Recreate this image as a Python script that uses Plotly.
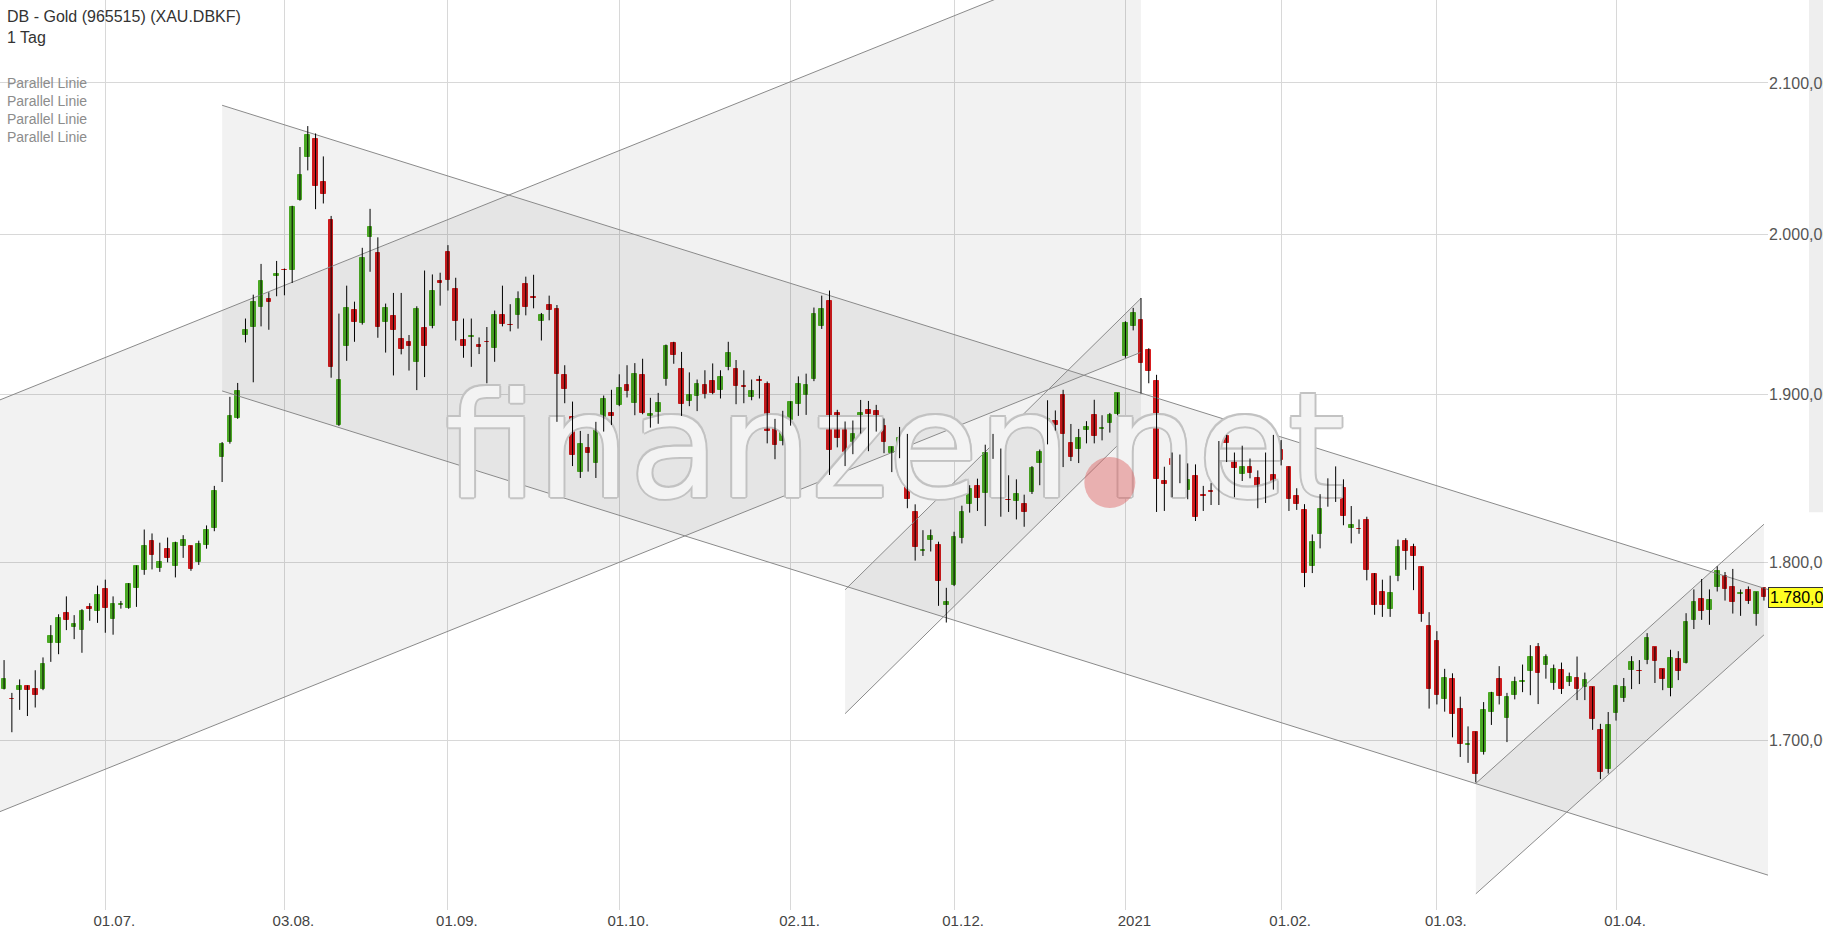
import math
import pandas as pd
import plotly.graph_objects as go

# ---------------- data ----------------
open_ = [1728.4, 1722.8, 1727.5, 1729.6, 1727.9, 1727.9, 1754.0, 1754.0, 1770.8, 1763.1,
         1761.4, 1774.4, 1772.1, 1784.4, 1767.6, 1775.5, 1773.8, 1785.1, 1795.3, 1812.6,
         1797.0, 1807.9, 1798.1, 1809.3, 1809.3, 1800.4, 1809.9, 1819.7, 1861.9, 1870.8,
         1885.6, 1936.3, 1941.3, 1953.9, 1959.3, 1973.4, 1977.4, 1977.6, 2022.7, 2050.6,
         2062.3, 2034.1, 2009.5, 1881.3, 1930.0, 1952.4, 1943.8, 1998.5, 1988.0, 1944.4,
         1948.6, 1934.2, 1932.3, 1919.9, 1941.1, 1942.3, 1970.6, 1988.9, 1965.6, 1933.5,
         1935.4, 1930.4, 1932.1, 1928.7, 1948.8, 1943.0, 1948.8, 1968.8, 1960.6, 1945.1,
         1955.6, 1953.0, 1911.5, 1886.0, 1853.3, 1867.7, 1858.6, 1879.1, 1888.4, 1893.3,
         1905.9, 1894.9, 1911.5, 1886.6, 1889.0, 1909.2, 1931.4, 1915.3, 1895.7, 1899.2,
         1905.7, 1908.2, 1902.3, 1916.6, 1915.3, 1905.2, 1898.0, 1909.0, 1906.5, 1883.6,
         1871.4, 1884.4, 1893.9, 1899.8, 1909.6, 1941.9, 1958.1, 1888.8, 1883.4, 1870.8,
         1880.3, 1890.5, 1889.5, 1880.7, 1864.7, 1868.4, 1875.0, 1829.2, 1806.3, 1813.2,
         1809.9, 1775.5, 1787.2, 1814.0, 1834.1, 1844.6, 1840.8, 1868.0, 1861.1, 1836.5,
         1835.9, 1834.3, 1841.2, 1858.6, 1870.2, 1883.8, 1899.6, 1870.6, 1866.9, 1878.1,
         1887.2, 1879.1, 1882.6, 1887.8, 1923.5, 1941.9, 1946.1, 1927.3, 1907.8, 1847.5,
         1861.1, 1860.0, 1842.4, 1850.5, 1839.3, 1841.6, 1854.2, 1874.8, 1862.3, 1852.1,
         1855.8, 1849.3, 1838.3, 1851.1, 1866.5, 1856.2, 1839.1, 1830.6, 1798.1, 1816.4,
         1841.0, 1844.0, 1843.8, 1820.1, 1819.5, 1824.5, 1793.4, 1783.2, 1773.3, 1791.9,
         1812.6, 1809.1, 1797.4, 1763.5, 1755.0, 1722.4, 1733.5, 1717.1, 1697.2, 1704.7,
         1693.5, 1715.6, 1733.5, 1712.2, 1724.7, 1732.0, 1738.2, 1751.4, 1741.8, 1731.6,
         1739.0, 1732.2, 1734.5, 1729.4, 1729.2, 1705.3, 1684.1, 1715.0, 1723.4, 1738.6,
         1738.4, 1744.3, 1751.4, 1739.2, 1728.6, 1744.8, 1742.6, 1767.0, 1778.7, 1772.5,
         1785.5, 1791.9, 1785.5, 1781.7, 1783.8, 1770.2, 1785.3]
high = [1744.3, 1726.0, 1733.5, 1730.1, 1738.6, 1745.8, 1764.0, 1770.2, 1780.4, 1769.7,
        1773.1, 1776.5, 1786.6, 1790.0, 1780.4, 1777.8, 1788.0, 1798.2, 1819.1, 1816.8,
        1811.4, 1814.4, 1812.0, 1815.8, 1809.7, 1812.6, 1821.5, 1844.8, 1871.0, 1898.4,
        1906.9, 1946.8, 1961.8, 1981.3, 1963.3, 1983.2, 1978.4, 2018.7, 2057.2, 2071.1,
        2066.2, 2051.0, 2012.1, 1949.9, 1967.5, 1957.4, 1991.6, 2016.7, 1998.3, 1956.2,
        1962.9, 1962.9, 1936.5, 1954.5, 1977.1, 1974.6, 1975.7, 1993.3, 1972.5, 1946.8,
        1946.8, 1935.0, 1941.5, 1951.8, 1967.5, 1955.8, 1963.9, 1973.2, 1974.4, 1950.3,
        1961.2, 1955.3, 1917.8, 1895.5, 1877.7, 1875.9, 1883.2, 1899.2, 1902.7, 1912.2,
        1917.8, 1919.1, 1921.8, 1897.8, 1900.8, 1930.6, 1932.3, 1926.0, 1913.4, 1909.0,
        1914.7, 1918.9, 1914.7, 1932.3, 1921.0, 1914.7, 1909.0, 1911.3, 1907.8, 1885.0,
        1889.9, 1895.7, 1910.9, 1912.6, 1953.7, 1961.2, 1964.4, 1890.5, 1883.4, 1884.0,
        1896.5, 1895.9, 1893.5, 1885.2, 1868.4, 1880.1, 1875.9, 1833.9, 1818.7, 1819.1,
        1812.0, 1785.3, 1817.8, 1833.1, 1845.2, 1849.1, 1869.4, 1875.9, 1867.1, 1851.1,
        1848.7, 1839.6, 1856.6, 1866.5, 1896.3, 1890.1, 1902.7, 1881.9, 1878.9, 1883.6,
        1896.6, 1887.2, 1888.6, 1900.8, 1945.1, 1953.5, 1959.7, 1928.3, 1911.9, 1856.2,
        1864.7, 1863.5, 1858.2, 1857.6, 1844.8, 1846.4, 1871.6, 1875.3, 1864.7, 1868.8,
        1861.1, 1854.0, 1864.7, 1875.3, 1872.2, 1856.4, 1843.4, 1834.0, 1816.2, 1839.9,
        1849.3, 1856.4, 1848.7, 1832.9, 1825.0, 1826.6, 1793.8, 1790.0, 1792.3, 1813.2,
        1814.0, 1810.8, 1797.6, 1771.4, 1760.6, 1739.4, 1736.9, 1723.9, 1707.5, 1704.7,
        1720.9, 1726.6, 1740.9, 1726.0, 1735.0, 1741.8, 1752.7, 1753.9, 1747.5, 1741.8,
        1742.9, 1737.3, 1746.3, 1737.3, 1729.4, 1708.9, 1715.4, 1730.5, 1734.3, 1746.5,
        1744.3, 1759.5, 1751.6, 1739.4, 1750.1, 1749.3, 1770.8, 1784.4, 1790.4, 1784.4,
        1797.7, 1794.4, 1796.2, 1784.4, 1786.1, 1783.0, 1785.5]
low = [1727.9, 1704.3, 1716.6, 1713.2, 1717.9, 1727.5, 1743.3, 1747.6, 1761.2, 1756.1,
       1748.4, 1766.5, 1765.3, 1759.7, 1758.6, 1773.4, 1773.3, 1774.4, 1792.8, 1795.9,
       1794.5, 1800.0, 1791.3, 1802.6, 1795.1, 1798.5, 1807.9, 1818.1, 1847.1, 1870.0,
       1885.0, 1931.9, 1907.3, 1941.9, 1939.8, 1960.8, 1961.4, 1969.2, 2022.0, 2041.8,
       2016.5, 2020.2, 1910.1, 1880.7, 1920.5, 1932.3, 1943.0, 1976.3, 1934.8, 1925.6,
       1911.5, 1924.5, 1914.5, 1902.5, 1910.5, 1940.7, 1954.9, 1964.4, 1933.1, 1922.4,
       1916.8, 1924.7, 1906.7, 1919.9, 1941.9, 1938.8, 1940.5, 1948.8, 1953.2, 1933.1,
       1945.7, 1883.2, 1894.5, 1856.6, 1849.5, 1853.3, 1849.5, 1877.3, 1881.3, 1892.7,
       1898.0, 1887.2, 1887.8, 1879.7, 1882.0, 1905.2, 1918.7, 1886.8, 1892.7, 1889.7,
       1897.4, 1900.0, 1897.4, 1914.7, 1893.9, 1894.5, 1896.3, 1897.4, 1870.2, 1860.7,
       1869.0, 1880.9, 1886.8, 1887.4, 1908.0, 1940.3, 1851.3, 1867.8, 1856.6, 1863.7,
       1876.1, 1865.5, 1877.3, 1864.3, 1853.0, 1861.3, 1831.6, 1801.0, 1803.7, 1806.3,
       1775.0, 1765.5, 1786.3, 1811.0, 1829.0, 1830.0, 1821.1, 1860.9, 1826.6, 1829.4,
       1825.0, 1820.7, 1840.0, 1845.2, 1869.6, 1877.9, 1856.0, 1859.6, 1858.4, 1870.2,
       1870.2, 1872.0, 1876.7, 1887.2, 1922.4, 1939.4, 1900.4, 1906.7, 1829.4, 1830.0,
       1838.1, 1846.4, 1836.9, 1824.1, 1830.0, 1833.5, 1833.5, 1859.0, 1838.1, 1847.7,
       1849.3, 1831.6, 1834.7, 1842.6, 1857.0, 1830.0, 1830.6, 1785.7, 1793.8, 1808.1,
       1832.5, 1835.3, 1821.6, 1811.0, 1816.6, 1789.6, 1769.9, 1768.7, 1768.7, 1789.1,
       1795.7, 1784.0, 1765.9, 1717.3, 1719.6, 1715.6, 1701.5, 1690.8, 1687.6, 1677.0,
       1692.1, 1708.3, 1719.6, 1698.9, 1722.4, 1726.4, 1724.7, 1719.8, 1733.9, 1727.7,
       1725.4, 1729.8, 1722.0, 1722.0, 1705.6, 1678.8, 1681.8, 1710.7, 1721.0, 1728.1,
       1730.9, 1742.0, 1731.5, 1727.5, 1724.1, 1733.1, 1742.4, 1761.8, 1767.0, 1764.2,
       1783.2, 1778.0, 1770.6, 1769.3, 1776.1, 1763.7, 1778.0]
close = [1733.5, 1722.4, 1730.1, 1727.5, 1724.7, 1742.0, 1757.8, 1768.0, 1767.0, 1764.6,
         1771.9, 1773.3, 1781.0, 1773.8, 1776.3, 1775.9, 1787.7, 1797.9, 1809.7, 1804.5,
         1800.2, 1802.6, 1811.4, 1813.2, 1795.9, 1810.8, 1819.1, 1841.6, 1870.0, 1886.6,
         1902.1, 1939.8, 1957.0, 1970.6, 1957.0, 1975.1, 1977.2, 2018.0, 2038.5, 2064.9,
         2031.9, 2026.2, 1916.8, 1908.4, 1953.7, 1944.4, 1984.9, 2004.8, 1941.3, 1953.7,
         1939.4, 1928.1, 1930.0, 1953.0, 1929.4, 1964.4, 1969.0, 1971.3, 1945.1, 1929.8,
         1935.8, 1929.1, 1931.9, 1949.3, 1943.6, 1942.6, 1959.3, 1953.9, 1959.5, 1949.3,
         1952.2, 1912.6, 1902.9, 1863.1, 1869.8, 1864.3, 1881.9, 1897.0, 1886.8, 1904.0,
         1902.1, 1912.2, 1888.4, 1888.0, 1894.9, 1929.8, 1924.3, 1893.9, 1899.6, 1906.5,
         1900.0, 1901.0, 1910.3, 1925.4, 1905.2, 1904.2, 1902.1, 1908.0, 1877.9, 1869.0,
         1879.7, 1895.5, 1906.5, 1905.7, 1949.9, 1953.0, 1866.5, 1873.2, 1864.9, 1876.1,
         1888.8, 1888.0, 1881.5, 1870.8, 1867.9, 1873.6, 1836.9, 1808.7, 1807.3, 1815.2,
         1789.1, 1777.4, 1815.0, 1829.2, 1842.8, 1837.7, 1864.7, 1871.0, 1839.4, 1836.3,
         1840.2, 1829.6, 1855.2, 1864.9, 1884.8, 1881.5, 1876.1, 1862.1, 1873.6, 1880.1,
         1874.4, 1879.5, 1887.6, 1900.6, 1944.0, 1950.5, 1919.3, 1914.3, 1848.7, 1846.0,
         1857.0, 1846.9, 1848.1, 1826.3, 1839.1, 1841.4, 1870.6, 1870.2, 1855.4, 1856.2,
         1852.5, 1842.4, 1843.4, 1843.4, 1860.2, 1837.1, 1834.1, 1794.0, 1811.8, 1831.4,
         1837.1, 1843.8, 1827.1, 1821.8, 1819.3, 1795.3, 1775.5, 1775.5, 1782.1, 1809.1,
         1806.3, 1803.9, 1770.6, 1728.1, 1724.7, 1734.1, 1714.5, 1697.7, 1698.1, 1681.3,
         1716.6, 1726.2, 1724.1, 1723.9, 1732.2, 1732.4, 1745.8, 1737.3, 1745.8, 1739.5,
         1728.2, 1735.0, 1728.2, 1733.3, 1711.7, 1682.9, 1708.1, 1729.8, 1729.0, 1743.1,
         1738.2, 1756.7, 1743.7, 1733.5, 1745.4, 1738.2, 1765.7, 1777.0, 1771.9, 1778.2,
         1795.1, 1784.4, 1777.2, 1782.1, 1777.8, 1782.9, 1780.0]

holidays = ["2020-12-25", "2021-01-01", "2021-04-02", "2021-04-05"]
dates = [d.strftime("%Y-%m-%d") for d in pd.bdate_range("2020-06-12", "2021-04-30")
         if d.strftime("%Y-%m-%d") not in holidays]
idx = list(range(len(dates)))

tick_dates = ["2020-07-01", "2020-08-03", "2020-09-01", "2020-10-01", "2020-11-02",
              "2020-12-01", "2021-01-04", "2021-02-01", "2021-03-01", "2021-04-01"]
tick_text = ["01.07.", "03.08.", "01.09.", "01.10.", "02.11.",
             "01.12.", "2021", "01.02.", "01.03.", "01.04."]
tick_vals = [dates.index(d) for d in tick_dates]

price_ticks = [1700, 1800, 1900, 2000, 2100]
price_text = ["1.700,00", "1.800,00", "1.900,00", "2.000,00", "2.100,00"]

# "Parallel Linie" drawings: anchor points (bar index, price)
ch1_x, ch1_upper, ch1_lower = [-6, 146], [1886.1, 2198.4], [1652.2, 1925.8]
ch2_x, ch2_upper, ch2_lower = [28, 230], [2085.0, 1779.5], [1902.0, 1623.3]
ch3_x, ch3_upper, ch3_lower = [108, 146], [1784.2, 1959.5], [1714.5, 1882.9]
ch4_x, ch4_upper, ch4_lower = [189, 226], [1676.5, 1822.2], [1618.0, 1758.5]
channels = [(ch1_x, ch1_upper, ch1_lower), (ch2_x, ch2_upper, ch2_lower),
            (ch3_x, ch3_upper, ch3_lower), (ch4_x, ch4_upper, ch4_lower)]

GREEN = "#4fb226"
RED = "#d81d1f"
FONT = "Liberation Sans, Arial, sans-serif"

fig = go.Figure()

# channel shading and lines
for cx, cu, cl in channels:
    fig.add_trace(go.Scatter(x=[cx[0], cx[1], cx[1], cx[0]], y=[cu[0], cu[1], cl[1], cl[0]],
                             mode="lines", fill="toself", fillcolor="rgba(0,0,0,0.052)",
                             line=dict(width=0), hoverinfo="skip"))
for cx, cu, cl in channels:
    for edge in (cu, cl):
        fig.add_trace(go.Scatter(x=cx, y=edge, mode="lines",
                                 line=dict(color="#8a8a8a", width=1), hoverinfo="skip"))

# watermark (drawn below the candles)
wm_shadow = ", ".join(f"{dx}px {dy}px 0 #c2c2c2" for dx, dy in
                      [(2, 0), (-2, 0), (0, 2), (0, -2), (1.5, 1.5), (-1.5, -1.5), (1.5, -1.5), (-1.5, 1.5)])
fig.add_trace(go.Scatter(x=[96.8, 156.8], y=[1860.2, 1860.2], mode="text", text=["finanzen", "net"],
                         textposition="middle center",
                         textfont=dict(family="DejaVu Sans", size=146, color="rgba(248,248,248,0.9)",
                                       shadow=wm_shadow),
                         hoverinfo="skip"))
fig.add_trace(go.Scatter(x=[142.0], y=[1846.8], mode="markers",
                         marker=dict(size=51, color="rgba(222,95,95,0.45)", line=dict(width=0)),
                         hoverinfo="skip"))

# wicks
wx, wy = [], []
for i in idx:
    wx += [i, i, None]
    wy += [low[i], high[i], None]
fig.add_trace(go.Scatter(x=wx, y=wy, mode="lines", line=dict(color="#000000", width=1), hoverinfo="skip"))

# bodies
inc = [i for i in idx if close[i] >= open_[i]]
dec = [i for i in idx if close[i] < open_[i]]
for sel, col in ((inc, GREEN), (dec, RED)):
    fig.add_trace(go.Bar(x=sel, y=[abs(close[i] - open_[i]) for i in sel],
                         base=[min(open_[i], close[i]) for i in sel],
                         width=0.6, marker=dict(color=col, line=dict(color=col, width=1)),
                         customdata=[dates[i] for i in sel], hovertemplate="%{customdata}<extra></extra>"))

# texts
fig.add_annotation(x=0, y=1, xref="paper", yref="paper", xanchor="left", yanchor="top",
                   xshift=5, yshift=-6, showarrow=False, align="left",
                   text="DB - Gold (965515) (XAU.DBKF)<br>1 Tag",
                   font=dict(family=FONT, size=16, color="#333333"))
for k in range(4):
    fig.add_annotation(x=0, y=1, xref="paper", yref="paper", xanchor="left", yanchor="middle",
                       xshift=5, yshift=-(82.7 + 18 * k), showarrow=False,
                       text="Parallel Linie", font=dict(family=FONT, size=14, color="#8c8c8c"))

fig.add_annotation(x=1, y=math.log10(close[-1]), xref="paper", yref="y", xanchor="left", yanchor="middle",
                   xshift=0, showarrow=False, text="1.780,00", bgcolor="#ffff22",
                   bordercolor="#333333", borderwidth=1, borderpad=1,
                   font=dict(family=FONT, size=16, color="#000000"))

# light strip at the right page edge
fig.add_shape(type="rect", xref="paper", yref="paper", x0=1.0232, x1=1.04, y0=0.437, y1=1.0,
              fillcolor="#eeeeee", line=dict(width=0), layer="below")

fig.update_layout(
    width=1823, height=938,
    margin=dict(l=0, r=55, t=0, b=28, autoexpand=False),
    paper_bgcolor="white", plot_bgcolor="white",
    showlegend=False, barmode="overlay", bargap=0,
    xaxis=dict(range=[-0.523, 226.52], tickmode="array", tickvals=tick_vals, ticktext=tick_text,
               showgrid=True, gridcolor="#d8d8d8", gridwidth=1, zeroline=False, showline=False,
               automargin=False, ticklabelshift=9,
               ticks="", tickfont=dict(family=FONT, size=15, color="#444444")),
    yaxis=dict(type="log", range=[math.log10(1609.6), math.log10(2156.8)], side="right",
               tickmode="array", tickvals=price_ticks, ticktext=price_text, automargin=False,
               showgrid=True, gridcolor="#d8d8d8", gridwidth=1, zeroline=False, showline=False,
               ticks="", tickfont=dict(family=FONT, size=16, color="#555555")),
)

fig.write_html("out.html", config={"displayModeBar": False},
               post_script="document.body.style.margin='0';document.body.style.overflow='hidden';")
